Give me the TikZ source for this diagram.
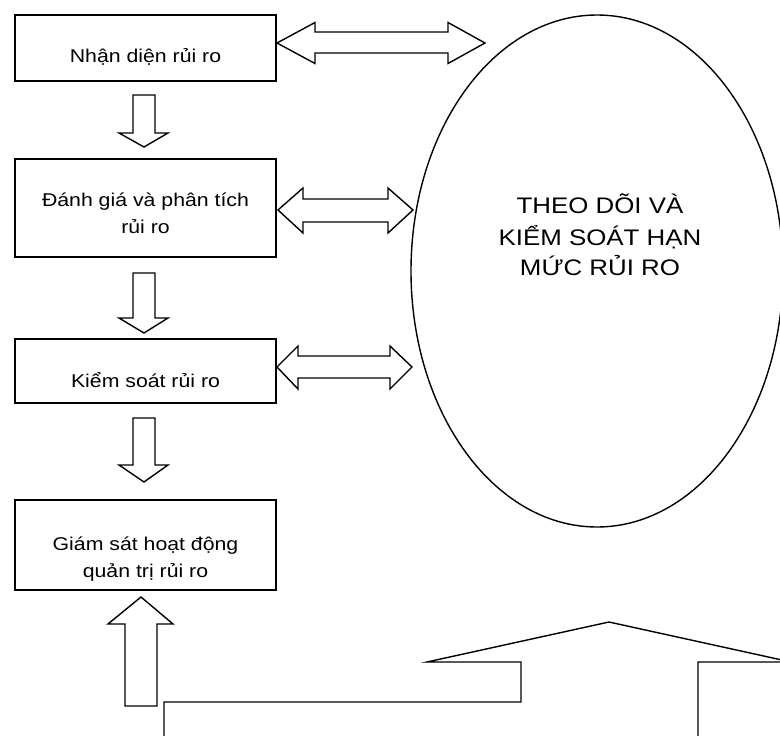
\documentclass[tikz,border=0pt]{standalone}
\usepackage{fontspec}
\setmainfont[FakeStretch=1.15]{Liberation Sans}
\usetikzlibrary{shapes.geometric}
\begin{document}
\begin{tikzpicture}[x=1pt,y=-1pt,
  line join=miter,
  boxnode/.style={draw, line width=1.6pt, rectangle, inner sep=0pt, minimum width=261pt},
  blk/.style={draw, line width=1.4pt, fill=white},
  txt/.style={anchor=base, inner sep=0pt, font=\fontsize{18.5}{27}\selectfont},
  bigtxt/.style={anchor=base, inner sep=0pt, font=\fontsize{22.5}{31}\selectfont}]
\clip (0,0) rectangle (780,736);
\fill[white] (0,0) rectangle (780,736);

% boxes
\node[boxnode, minimum height=66pt] (b1) at (145.5,48) {};
\node[boxnode, minimum height=98pt] (b2) at (145.5,208) {};
\node[boxnode, minimum height=64pt] (b3) at (145.5,371) {};
\node[boxnode, minimum height=90pt] (b4) at (145.5,545) {};

\node[txt] (t1) at (145.5,62) {Nhận diện rủi ro};
\node[txt] (t2a) at (145.5,206) {Đánh giá và phân tích};
\node[txt] (t2b) at (145.5,233) {rủi ro};
\node[txt] (t3) at (145.5,387) {Kiểm soát rủi ro};
\node[txt] (t4a) at (145.5,550) {Giám sát hoạt động};
\node[txt] (t4b) at (145.5,577) {quản trị rủi ro};

% ellipse
\node[draw, ellipse, line width=1.4pt, inner sep=0pt, minimum width=372pt, minimum height=512pt] (el) at (597,271) {};
\node[bigtxt] (e1) at (600,213) {THEO DÕI VÀ};
\node[bigtxt] (e2) at (600,245) {KIỂM SOÁT HẠN};
\node[bigtxt] (e3) at (600,275) {MỨC RỦI RO};

% down arrows
\draw[blk] (133,95) -- (155,95) -- (155,133) -- (168,133) -- (144,147) -- (119,133) -- (133,133) -- cycle;
\draw[blk] (133,273) -- (155,273) -- (155,318) -- (168,318) -- (144,333) -- (119,318) -- (133,318) -- cycle;
\draw[blk] (133,418) -- (155,418) -- (155,465) -- (168,465) -- (144,482) -- (119,465) -- (133,465) -- cycle;

% up arrow
\draw[blk] (125,706) -- (125,624) -- (108,624) -- (141,597) -- (173,624) -- (157,624) -- (157,706) -- cycle;

% double arrows
\draw[blk] (277,43) -- (315,22.5) -- (315,32) -- (448,32) -- (448,22.5) -- (485,43) -- (448,63.5) -- (448,53) -- (315,53) -- (315,63.5) -- cycle;
\draw[blk] (278,210) -- (303,188) -- (303,199) -- (388,199) -- (388,188) -- (413,210) -- (388,233) -- (388,222) -- (303,222) -- (303,233) -- cycle;
\draw[blk] (277,367) -- (298,346) -- (298,356) -- (390,356) -- (390,346) -- (412,367) -- (390,389) -- (390,378) -- (298,378) -- (298,389) -- cycle;

% big block shape at bottom
\draw[line width=1.4pt] (164,745) -- (164,702) -- (521,702) -- (521,662) -- (427,662) -- (609,622) -- (791,662) -- (698,662) -- (698,745);
\end{tikzpicture}
\end{document}
